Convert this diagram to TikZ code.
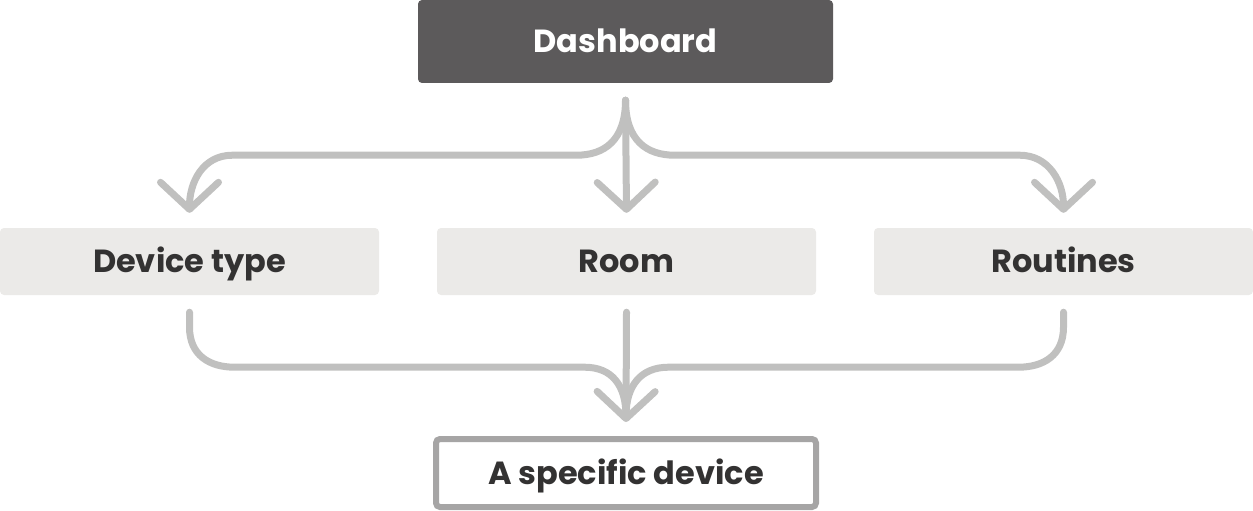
\documentclass[tikz,border=0pt]{standalone}
\usepackage{fontspec}
\setmainfont{Poppins}
\usetikzlibrary{arrows.meta}
\definecolor{darkbox}{HTML}{5C5A5B}
\definecolor{lightbox}{HTML}{EBEAE8}
\definecolor{txtcol}{HTML}{333232}
\definecolor{arrcol}{HTML}{C0C0BF}
\definecolor{bordcol}{HTML}{A6A5A5}
\begin{document}
\begin{tikzpicture}[x=1pt,y=-1pt,
  box/.style={rounded corners=4pt, inner sep=0pt, minimum width=379pt, minimum height=67pt,
    fill=lightbox, text=txtcol, font=\fontsize{32}{38}\selectfont\bfseries,
    text height=22.4pt, text depth=0pt},
  topbox/.style={box, fill=darkbox, text=white, minimum width=415pt, minimum height=83pt},
  endbox/.style={box, fill=white, draw=bordcol, line width=6pt, minimum width=380pt, minimum height=68pt},
  conn/.style={draw=arrcol, line width=7pt, line cap=round, line join=round},
  tipped/.style={-{Straight Barb[length=27pt,width=58pt,round]}}
]
\useasboundingbox (0,0) rectangle (1253,511);
\node[topbox] (dash) at (625.5,41.5) {Dashboard};
\node[box] (dev) at (189.5,261.5) {Device type};
\node[box] (room) at (626.5,261.5) {Room};
\node[box] (rout) at (1063.5,261.5) {Routines};
\node[endbox] (spec) at (626,473) {A specific device};

\coordinate (t0) at ([yshift=-17pt]dash.south);
% top connectors
\draw[conn,tipped] (t0) -- ([yshift=15pt]room.north);
\draw[conn,tipped] (t0) .. controls +(0,40) and +(28,0) .. ++(-49,55) -- ++(-344,0)
  .. controls +(-30,0) and +(0,-30) .. ([yshift=15pt]dev.north);
\draw[conn,tipped] (t0) .. controls +(0,40) and +(-28,0) .. ++(49,55) -- ++(345,0)
  .. controls +(30,0) and +(0,-30) .. ([yshift=15pt]rout.north);
% bottom connectors
\draw[conn,tipped] ([yshift=-17pt]room.south) -- ([yshift=14pt]spec.north);
\draw[conn] ([yshift=-17pt]dev.south) -- ++(0,15) .. controls +(0,28) and +(-25,0) .. ++(45,40)
  -- ++(350,0) .. controls +(28,0) and +(0,-30) .. ([yshift=20pt]spec.north);
\draw[conn] ([yshift=-17pt]rout.south) -- ++(0,15) .. controls +(0,28) and +(25,0) .. ++(-45,40)
  -- ++(-350,0) .. controls +(-28,0) and +(0,-30) .. ([yshift=20pt]spec.north);
\end{tikzpicture}
\end{document}
